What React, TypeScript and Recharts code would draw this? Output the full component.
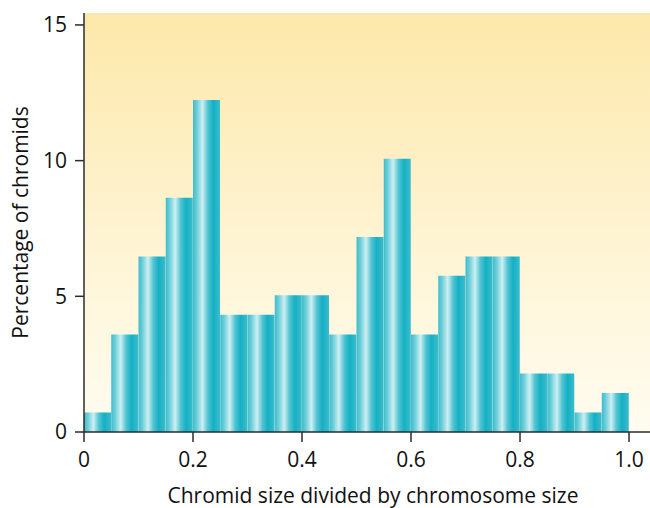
import { Bar, BarChart, CartesianGrid, XAxis, YAxis } from "recharts";

// histogram bins (centre of each 0.05-wide bin)
const binCenters = [
  0.025, 0.075, 0.125, 0.175, 0.225, 0.275, 0.325, 0.375, 0.425, 0.475,
  0.525, 0.575, 0.625, 0.675, 0.725, 0.775, 0.825, 0.875, 0.925, 0.975,
];

// percentage of chromids per bin
const percentages = [
  0.72, 3.59, 6.47, 8.63, 12.23, 4.32, 4.32, 5.04, 5.04, 3.59,
  7.19, 10.07, 3.59, 5.76, 6.47, 6.47, 2.16, 2.16, 0.72, 1.44,
];

const xTicks = [0, 0.2, 0.4, 0.6, 0.8, 1.0];
const yTicks = [0, 5, 10, 15];

const data = binCenters.map((x, i) => ({ x, pct: percentages[i] }));

const FONT = "'Open Sans', 'Noto Sans', sans-serif";
const AXIS = "#2b2b2b";
const TEXT = "#111";

export default function App() {
  return (
    <div style={{ position: "absolute", left: 0, top: 0, fontFamily: FONT }}>
      <BarChart
        width={650}
        height={508}
        data={data}
        margin={{ top: 13, right: 0, bottom: 0, left: 0 }}
        barCategoryGap={0}
        barGap={0}
      >
        <defs>
          <linearGradient id="bg" x1="0" y1="0" x2="0" y2="1">
            <stop offset="0%" stopColor="#fde8aa" />
            <stop offset="55%" stopColor="#fef4d4" />
            <stop offset="100%" stopColor="#fffcf0" />
          </linearGradient>
          <linearGradient id="barFill" x1="0" y1="0" x2="1" y2="0">
            <stop offset="0%" stopColor="#3dbccb" />
            <stop offset="15%" stopColor="#6fcfda" />
            <stop offset="35%" stopColor="#cdeff3" />
            <stop offset="55%" stopColor="#52c4d2" />
            <stop offset="75%" stopColor="#14b0c4" />
            <stop offset="100%" stopColor="#3cbccb" />
          </linearGradient>
        </defs>
        <CartesianGrid horizontal={false} vertical={false} fill="url(#bg)" />
        <XAxis
          type="number"
          dataKey="x"
          domain={[0, 1.0385]}
          ticks={xTicks}
          allowDataOverflow
          height={76}
          tickSize={10}
          tickMargin={10}
          stroke={AXIS}
          strokeWidth={1.5}
          tick={{ fill: TEXT, fontSize: 21 }}
          tickFormatter={(v: number) => (v === 0 ? "0" : v.toFixed(1))}
          label={{
            value: "Chromid size divided by chromosome size",
            position: "insideBottom",
            offset: 5,
            fill: TEXT,
            fontSize: 21,
            dx: 6,
          }}
        />
        <YAxis
          type="number"
          domain={[0, 15.44]}
          ticks={yTicks}
          allowDataOverflow
          width={84}
          tickSize={9}
          tickMargin={8}
          stroke={AXIS}
          strokeWidth={1.5}
          tick={{ fill: TEXT, fontSize: 21 }}
          label={{
            value: "Percentage of chromids",
            angle: -90,
            position: "insideLeft",
            offset: 21,
            fill: TEXT,
            fontSize: 21,
            style: { textAnchor: "middle" },
          }}
        />
        <Bar dataKey="pct" fill="url(#barFill)" isAnimationActive={false} />
      </BarChart>
    </div>
  );
}
